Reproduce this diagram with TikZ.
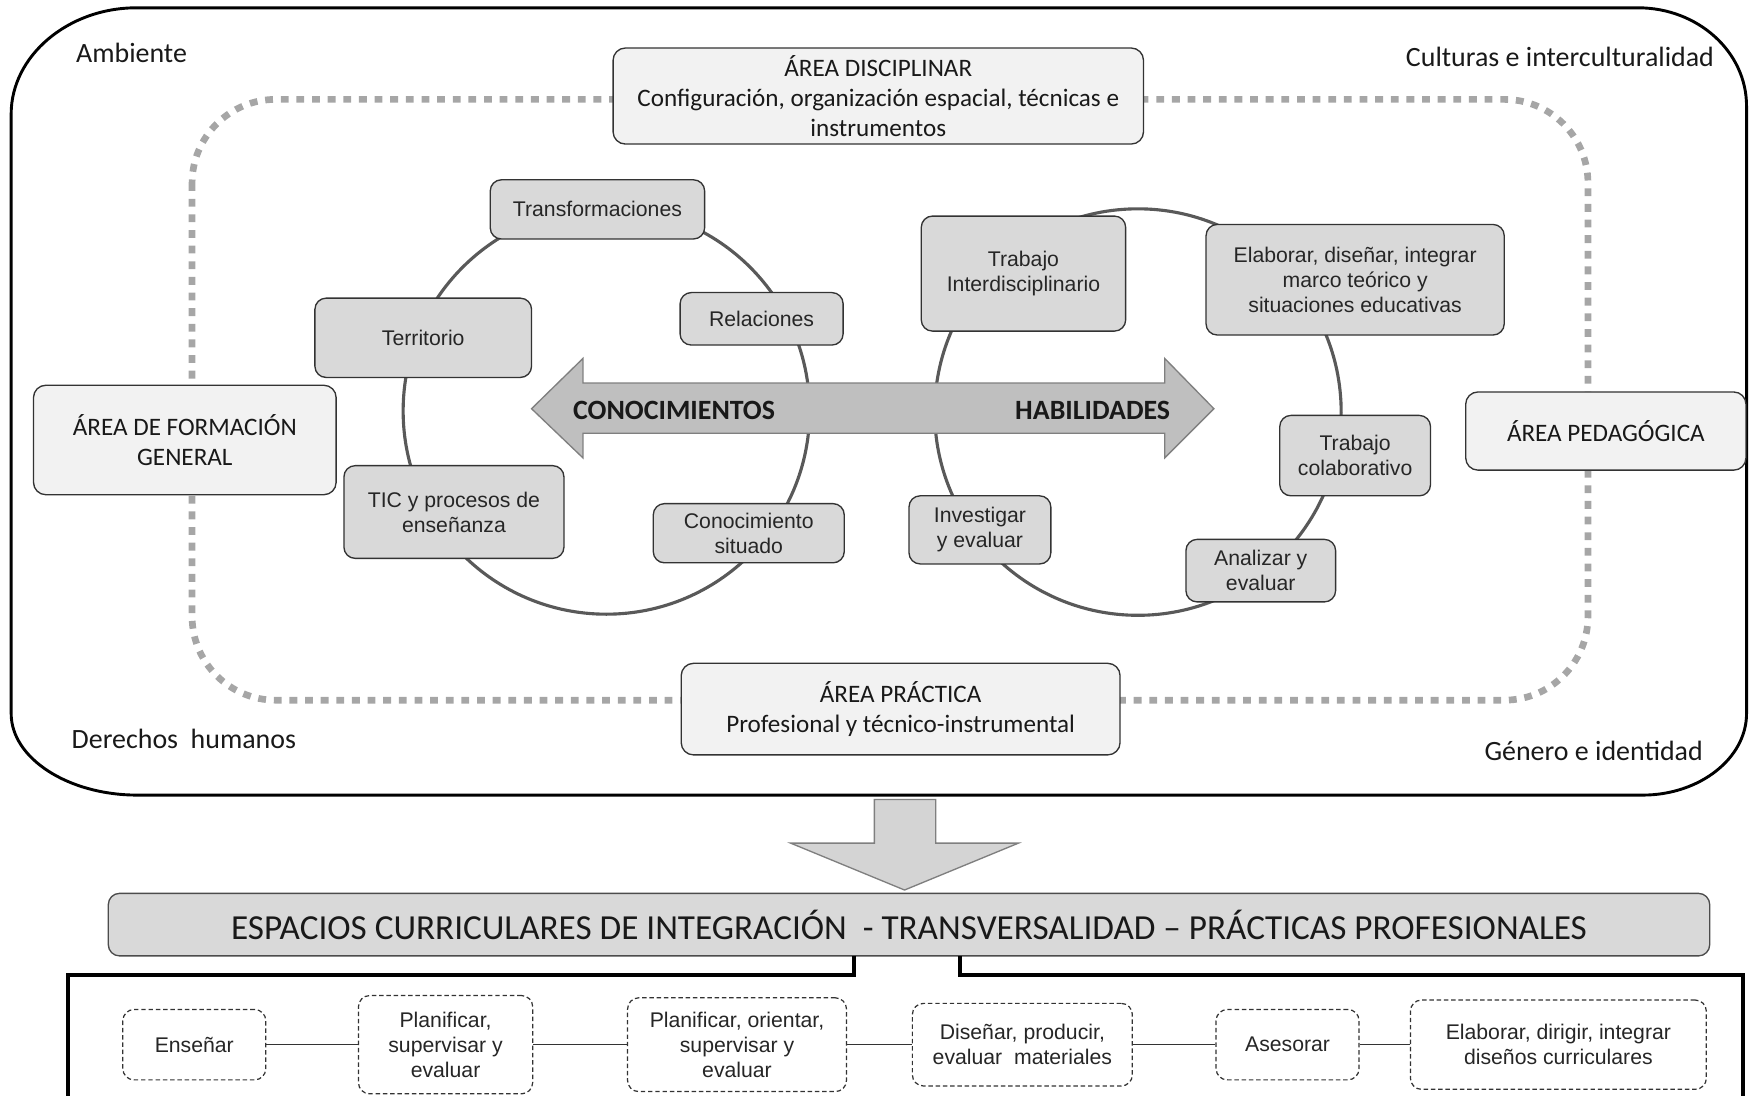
\documentclass[tikz,border=0pt]{standalone}
\usepackage{fontspec}
\setmainfont{Carlito}
\newfontfamily\arialf{Liberation Sans}
\definecolor{areafill}{HTML}{F2F2F2}
\definecolor{boxfill}{HTML}{D9D9D9}
\definecolor{circline}{HTML}{595959}
\definecolor{dotgray}{HTML}{A6A6A6}
\definecolor{arrowfill}{HTML}{BFBFBF}
\definecolor{arrowline}{HTML}{7F7F7F}
\definecolor{downfill}{HTML}{D4D4D4}
\tikzset{
  frameline/.style={line width=2.6, draw=black},
  dotline/.style={line width=6, draw=dotgray, dash pattern=on 7 off 7},
  circstyle/.style={line width=2.8, draw=circline},
  areabox/.style={draw=black!80, line width=1.2, fill=areafill, rounded corners=11,
    align=center, inner sep=0, text=black!90, font=\fontsize{22.5}{26.5}\selectfont},
  cbox/.style={draw=black!80, line width=1.2, fill=boxfill, rounded corners=10,
    align=center, inner sep=0, text=black!85, font=\arialf\fontsize{19}{22.5}\selectfont},
  dbox/.style={draw=black!80, dash pattern=on 4 off 2.5, line width=1.1, fill=white,
    rounded corners=10, align=center, inner sep=0, text=black!85,
    font=\arialf\fontsize{19}{22.5}\selectfont},
  cornerlabel/.style={inner sep=0, text=black!90, font=\fontsize{25}{30}\selectfont},
  arrowlabel/.style={inner sep=0, text=black!90, font=\bfseries\fontsize{25}{29}\selectfont},
  bigarrow/.style={fill=arrowfill, draw=arrowline, line width=1.2},
  downarrow/.style={fill=downfill, draw=arrowline, line width=1.2},
  conn/.style={draw=black!80, line width=1.3},
}
\begin{document}
\begin{tikzpicture}[x=1pt,y=-1pt]
\useasboundingbox (0,0) rectangle (1568,981);
% outer frame
\draw[frameline] (10,102) .. controls (10,50) and (61,7) .. (122,7) -- (1467,7)
  .. controls (1520,7) and (1564,46) .. (1564,95) -- (1564,639)
  .. controls (1564,679) and (1522,712) .. (1471,712) -- (123,712)
  .. controls (61,712) and (10,679) .. (10,639) -- cycle;
% dotted inner loop
\draw[dotline, rounded corners=75] (172,89) rectangle (1422,627);
% circles
\draw[circstyle] (543,368) circle[radius=182pt];
\draw[circstyle] (1019,369) circle[radius=182pt];
% double arrow
\draw[bigarrow] (476,366) -- (522,321) -- (522,343) -- (1043,343) -- (1043,321)
  -- (1087,366) -- (1043,410) -- (1043,388) -- (522,388) -- (522,410) -- cycle;
\node[arrowlabel, anchor=base west] (con) at (513,376) {CONOCIMIENTOS};
\node[arrowlabel, anchor=base east] (hab) at (1048,376) {HABILIDADES};
% corner labels
\node[cornerlabel, anchor=base west] (amb) at (68,56) {Ambiente};
\node[cornerlabel, anchor=base east] (cul) at (1535,60) {Culturas e interculturalidad};
\node[cornerlabel, anchor=base west] (der) at (64,670) {Derechos\ \ humanos};
\node[cornerlabel, anchor=base east] (gen) at (1525,681) {Género e identidad};
% area boxes
\node[areabox, minimum width=475, minimum height=86] (disc) at (786.5,86)
  {ÁREA DISCIPLINAR\\Configuración, organización espacial, técnicas e\\instrumentos};
\node[areabox, minimum width=271, minimum height=98] (gral) at (165.5,394)
  {ÁREA DE FORMACIÓN\\GENERAL};
\node[areabox, minimum width=251, minimum height=70] (ped) at (1438,386)
  {ÁREA PEDAGÓGICA};
\node[areabox, minimum width=393, minimum height=82] (prac) at (806.5,635)
  {ÁREA PRÁCTICA\\Profesional y técnico-instrumental};
% left circle boxes
\node[cbox, minimum width=192, minimum height=53] (trans) at (535,187.5) {Transformaciones};
\node[cbox, minimum width=194, minimum height=71] (terr) at (379,302.5) {Territorio};
\node[cbox, minimum width=146, minimum height=47] (rel) at (682,285.5) {Relaciones};
\node[cbox, minimum width=197, minimum height=83] (tic) at (406.5,458.5) {TIC y procesos de\\enseñanza};
\node[cbox, minimum width=171, minimum height=53] (consit) at (670.5,477.5) {Conocimiento\\situado};
% right circle boxes
\node[cbox, minimum width=183, minimum height=103] (trint) at (916.5,245) {Trabajo\\Interdisciplinario};
\node[cbox, minimum width=267, minimum height=99] (elab) at (1213.5,250.5)
  {Elaborar, diseñar, integrar\\marco teórico y\\situaciones educativas};
\node[cbox, minimum width=135, minimum height=72] (trcol) at (1213.5,408) {Trabajo\\colaborativo};
\node[cbox, minimum width=127, minimum height=61] (inv) at (877.5,474.5) {Investigar\\y evaluar};
\node[cbox, minimum width=134, minimum height=56] (anal) at (1129,511) {Analizar y\\evaluar};
% down arrow
\draw[downarrow] (783,716) -- (838,716) -- (838,755) -- (912,755) -- (810,797)
  -- (708,755) -- (783,755) -- cycle;
% espacios box
\node[draw=black!70, line width=1.2, fill=boxfill, rounded corners=10, inner sep=0,
  minimum width=1434, minimum height=56, text=black!90,
  font=\fontsize{31.5}{36}\selectfont] (esp) at (814,828)
  {ESPACIOS CURRICULARES DE INTEGRACIÓN\ \ - TRANSVERSALIDAD – PRÁCTICAS PROFESIONALES};
% bottom frame
\draw[line width=3.5] (765,856) -- (765,873) -- (61,873) -- (61,982);
\draw[line width=3.5] (860,856) -- (860,873) -- (1561,873) -- (1561,982);
% bottom boxes
\node[dbox, minimum width=128, minimum height=63] (b1) at (174,935.5) {Enseñar};
\node[dbox, minimum width=156, minimum height=88] (b2) at (399,935.5) {Planificar,\\supervisar y\\evaluar};
\node[dbox, minimum width=196, minimum height=84] (b3) at (660,935.5) {Planificar, orientar,\\supervisar y\\evaluar};
\node[dbox, minimum width=197, minimum height=74] (b4) at (915.5,935.5) {Diseñar, producir,\\evaluar\ \ materiales};
\node[dbox, minimum width=128, minimum height=63] (b5) at (1153,935.5) {Asesorar};
\node[dbox, minimum width=265, minimum height=80] (b6) at (1395.5,935.5) {Elaborar, dirigir, integrar\\diseños curriculares};
\draw[conn] (b1) -- (b2);
\draw[conn] (b2) -- (b3);
\draw[conn] (b3) -- (b4);
\draw[conn] (b4) -- (b5);
\draw[conn] (b5) -- (b6);
\end{tikzpicture}
\end{document}
